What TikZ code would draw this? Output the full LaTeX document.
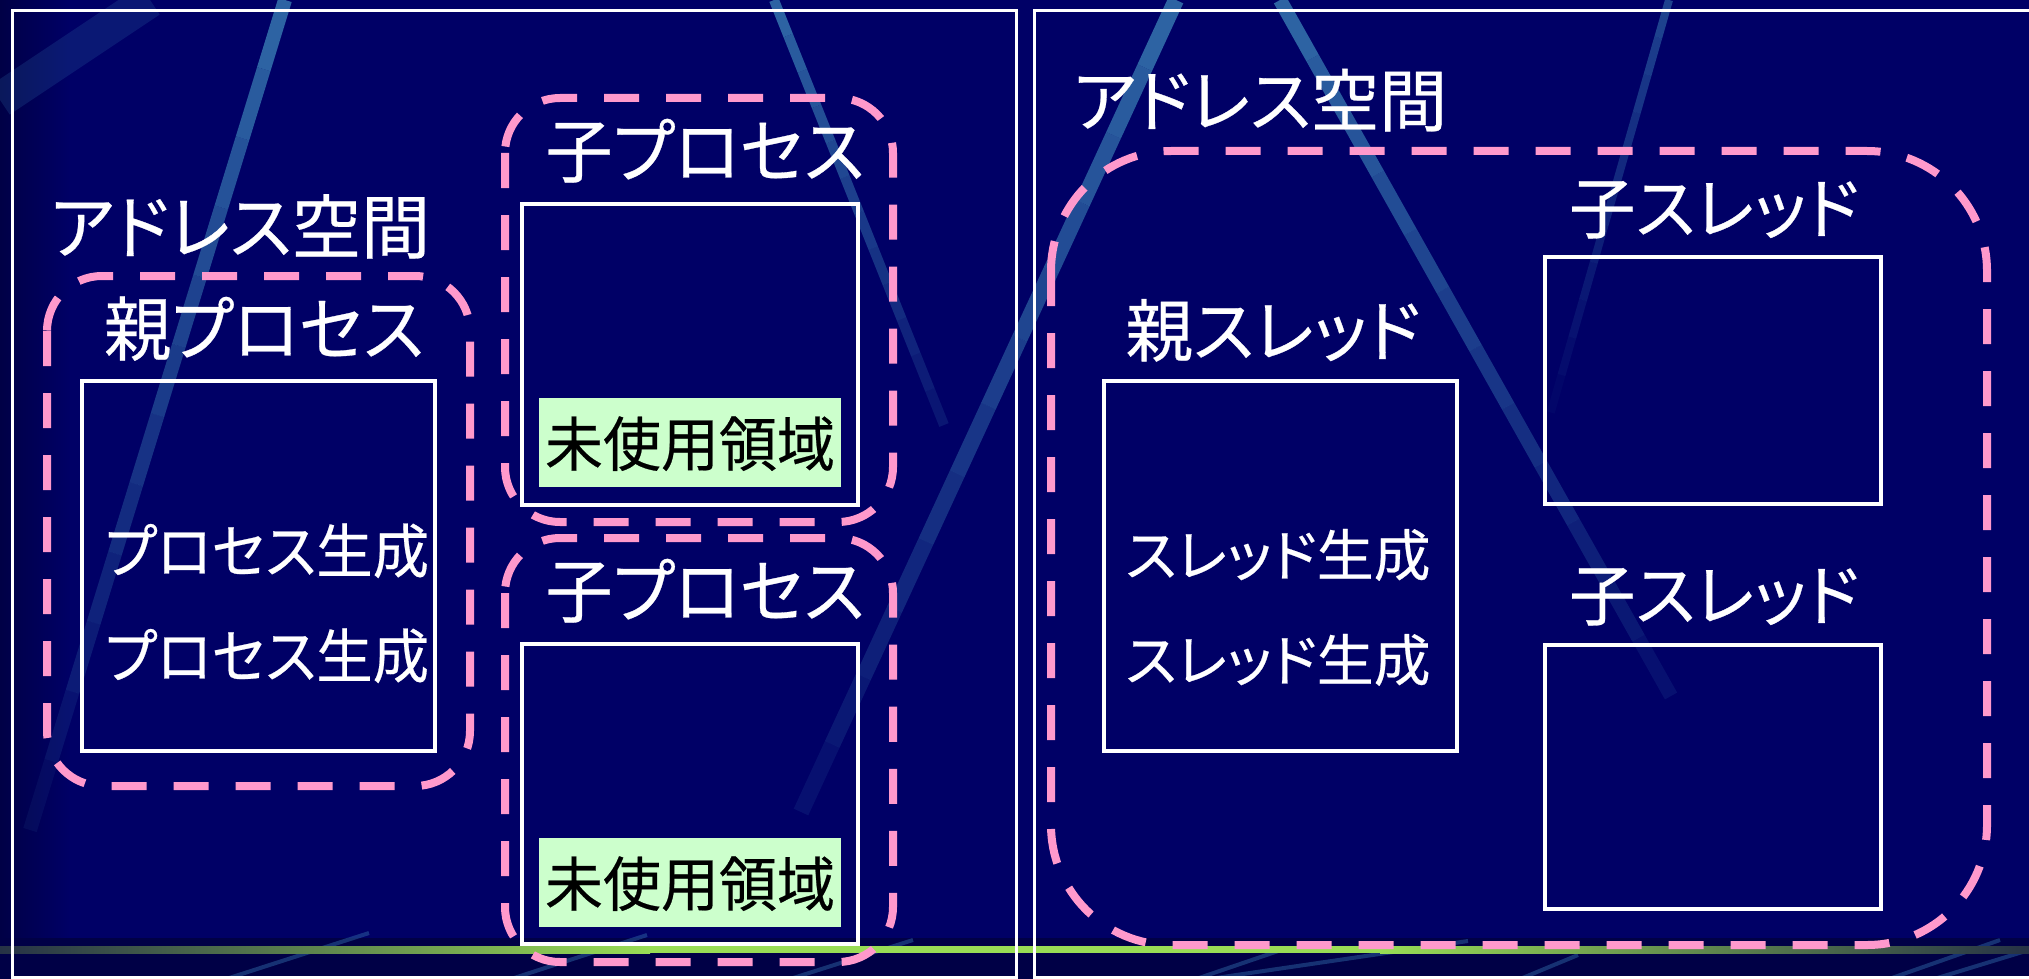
\documentclass[tikz,border=0pt]{standalone}
\usepackage{fontspec}
\usepackage{graphicx}
\newfontfamily\jp[RawFeature=+palt, FakeBold=0.4]{Noto Sans CJK JP}
\usetikzlibrary{calc}
\definecolor{bgc}{RGB}{0,0,102}
\definecolor{bandc}{RGB}{0,0,70}
\definecolor{pinkc}{RGB}{255,153,204}
\definecolor{freec}{RGB}{204,255,204}
\definecolor{stripec}{RGB}{50,110,170}
\definecolor{greenc}{RGB}{153,221,85}
\definecolor{darkline}{RGB}{38,50,70}
\newcommand\mystripe[5]{%
  \foreach \i in {0,...,11}{%
    \pgfmathsetmacro\ta{\i/12}%
    \pgfmathsetmacro\tb{(\i+1)/12}%
    \pgfmathsetmacro\op{#4+(#5-#4)*\i/11}%
    \draw[stripec, line width=#3, draw opacity=\op] ($(#1)!\ta!(#2)$) -- ($(#1)!\tb!(#2)$);
  }}
% text of given font size, squeezed to given width
\newcommand\jtxt[3]{{\jp\fontsize{#1}{#1}\selectfont\resizebox{#2pt}{\height}{#3}}}
\begin{document}
\begin{tikzpicture}[x=1pt,y=-1pt,
  frame/.style={draw=white, line width=3pt},
  box/.style={draw=white, line width=4pt, inner sep=0pt, outer sep=0pt},
  freebox/.style={fill=freec, draw=none, inner sep=0pt, outer sep=0pt},
  grp/.style={draw=pinkc, line width=8pt, dash pattern=on 35pt off 27pt},
  lbl/.style={text=white, inner sep=0pt, anchor=base},
  faint/.style={draw=stripec, line width=4pt, draw opacity=0.45},
]
\useasboundingbox (0,0) rectangle (2029,979);
\clip (0,0) rectangle (2029,979);
% background
\fill[bgc] (0,0) rectangle (2029,979);
\shade[left color={rgb,255:red,0;green,0;blue,70}, right color=bgc] (0,0) rectangle (70,938);
% diagonal stripes
\draw[stripec, line width=35pt, draw opacity=0.22] (0,100) -- (150,0);
\mystripe{285,0}{30,830}{14pt}{0.9}{0.1}
\mystripe{774,0}{944,425}{10pt}{0.9}{0.2}
\mystripe{1176,0}{801,812}{16pt}{0.9}{0.15}
\mystripe{1280,0}{1671,696}{14pt}{0.9}{0.15}
\mystripe{1669,0}{1540,450}{8pt}{0.6}{0.0}
% bottom band
\fill[bandc] (0,938) rectangle (2029,979);
\draw[faint] (226,979) -- (369,933);
\draw[faint] (511,979) -- (647,935);
\draw[faint] (790,979) -- (913,940);
\draw[faint] (1196,979) -- (1287,948);
\draw[faint] (1209,979) -- (1468,941);
\draw[faint] (1520,979) -- (1578,955);
\draw[faint] (1889,979) -- (2000,940);
\draw[faint] (1934,979) -- (2029,950);
% green line
\fill[left color=darkline, right color=greenc] (0,946) rectangle (650,953);
\fill[greenc] (650,946) rectangle (1380,953);
\fill[left color=greenc, right color=darkline] (1380,946) rectangle (2029,953);
% frames
\draw[frame] (12,11) rectangle (1016,977);
\draw[frame] (1034,11) rectangle (2045,977);

% ---------- left: processes ----------
\node[lbl] (laddr) at (240,253) {\jtxt{70}{380}{アドレス空間}};
\draw[grp, rounded corners=55pt] (47,276) rectangle (470,786);
\node[lbl] (ptitle) at (264,355) {\jtxt{70}{320}{親プロセス}};
\node[box, minimum width=353pt, minimum height=370pt] (pinner) at (258.5,566) {};
\node[lbl] (pgen1) at (267,573) {\jtxt{59}{324}{プロセス生成}};
\node[lbl] (pgen2) at (267,678) {\jtxt{59}{324}{プロセス生成}};

\draw[grp, rounded corners=55pt] (505,98) rectangle (893,522);
\node[lbl] (c1label) at (705,177) {\jtxt{70}{319}{子プロセス}};
\node[box, minimum width=336pt, minimum height=301pt] (c1inner) at (690,354.5) {};
\node[freebox, minimum width=302pt, minimum height=89pt] (c1free) at (690,442.5) {};
\node[lbl, text=black] (c1freetext) at (690,466) {\jtxt{59}{290}{未使用領域}};

\draw[grp, rounded corners=55pt] (505,538) rectangle (893,962);
\node[lbl] (c2label) at (705,617) {\jtxt{70}{319}{子プロセス}};
\node[box, minimum width=336pt, minimum height=300pt] (c2inner) at (690,794) {};
\node[freebox, minimum width=302pt, minimum height=89pt] (c2free) at (690,882.5) {};
\node[lbl, text=black] (c2freetext) at (690,906) {\jtxt{59}{290}{未使用領域}};

% ---------- right: threads ----------
\node[lbl] (raddr) at (1260,126) {\jtxt{68}{374}{アドレス空間}};
\draw[grp, rounded corners=120pt] (1051,151) rectangle (1987,945);
\node[lbl] (ttitle) at (1273,356) {\jtxt{68}{295}{親スレッド}};
\node[box, minimum width=353pt, minimum height=370pt] (tparent) at (1280.5,566) {};
\node[lbl] (tgen1) at (1278,576) {\jtxt{56}{305}{スレッド生成}};
\node[lbl] (tgen2) at (1278,681) {\jtxt{56}{305}{スレッド生成}};
\node[lbl] (tc1label) at (1714,233) {\jtxt{67}{290}{子スレッド}};
\node[box, minimum width=336pt, minimum height=247pt] (tchild1) at (1713,380.5) {};
\node[lbl] (tc2label) at (1714,620) {\jtxt{67}{290}{子スレッド}};
\node[box, minimum width=336pt, minimum height=264pt] (tchild2) at (1713,777) {};
\end{tikzpicture}
\end{document}
